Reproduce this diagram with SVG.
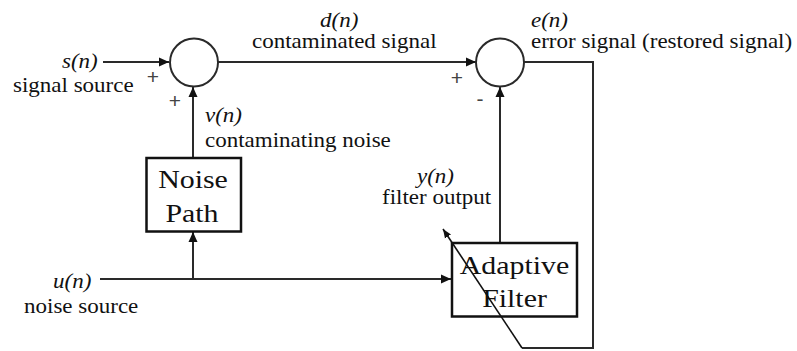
<svg xmlns="http://www.w3.org/2000/svg" width="797" height="351" viewBox="0 0 797 351">
<defs>
<style>
.ln{fill:none;stroke:#2a2a2a;stroke-width:2}
.box{fill:#fff;stroke:#111;stroke-width:2.5}
.sum{fill:#fff;stroke:#2a2a2a;stroke-width:2}
</style>
<marker id="ah" markerUnits="userSpaceOnUse" markerWidth="10" markerHeight="10" refX="10" refY="5" orient="auto" viewBox="0 0 10 10">
<path d="M0,0.5 L10,5 L0,9.5 z" fill="#111"/>
</marker>
<marker id="ah2" markerUnits="userSpaceOnUse" markerWidth="9" markerHeight="9" refX="10" refY="5" orient="auto" viewBox="0 0 10 10">
<path d="M0,1 L10,5 L0,9 z" fill="#111"/>
</marker>
</defs>
<rect width="797" height="351" fill="#fff"/>

<g id="connectors">
<path class="ln" d="M103,62 H169" marker-end="url(#ah)"/>
<path class="ln" d="M193,158 V87" marker-end="url(#ah)"/>
<path class="ln" d="M218,62 H476" marker-end="url(#ah)"/>
<path class="ln" d="M500,243 V87" marker-end="url(#ah)"/>
<path class="ln" d="M100,279 H451" marker-end="url(#ah)"/>
<path class="ln" d="M193,279 V232" marker-end="url(#ah)"/>
<path class="ln" d="M524,62 H593 V348 H522"/>
</g>

<g font-family="Liberation Sans" font-size="21" fill="#444" text-anchor="middle">
<g id="sum1">
<circle class="sum" cx="194" cy="62.5" r="24"/>
<text x="153" y="84">+</text>
<text x="175" y="108">+</text>
</g>
<g id="sum2">
<circle class="sum" cx="500" cy="62.5" r="24"/>
<text x="457" y="85">+</text>
<text x="480" y="106">-</text>
</g>
</g>

<g font-family="Liberation Serif" font-size="26" fill="#111" text-anchor="middle">
<g id="noise-path">
<rect class="box" x="146.5" y="158" width="94.5" height="73.5"/>
<text transform="translate(193,188) scale(1.15,1)">Noise</text>
<text transform="translate(192,222) scale(1.15,1)">Path</text>
</g>
<g id="adaptive-filter">
<rect class="box" x="452" y="243" width="125" height="73.5"/>
<text transform="translate(514.5,274) scale(1.15,1)">Adaptive</text>
<text transform="translate(514.5,307) scale(1.15,1)">Filter</text>
</g>
</g>

<g id="adapt-arrow">
<path d="M522,348 L443,229" fill="none" stroke="#111" stroke-width="1.6" marker-end="url(#ah2)"/>
</g>

<g id="labels" font-family="Liberation Serif" font-size="20" fill="#111">
<text font-style="italic" transform="translate(62,68) scale(1.15,1)">s(n)</text>
<text transform="translate(13,92) scale(1.15,1)">signal source</text>
<text font-style="italic" transform="translate(205,122) scale(1.15,1)">v(n)</text>
<text transform="translate(205,147) scale(1.15,1)">contaminating noise</text>
<text font-style="italic" transform="translate(320,27) scale(1.15,1)">d(n)</text>
<text transform="translate(252,48) scale(1.15,1)">contaminated signal</text>
<text font-style="italic" transform="translate(531,27) scale(1.15,1)">e(n)</text>
<text transform="translate(531,48) scale(1.15,1)">error signal (restored signal)</text>
<text font-style="italic" transform="translate(417,183) scale(1.15,1)">y(n)</text>
<text transform="translate(382,204) scale(1.15,1)">filter output</text>
<text font-style="italic" transform="translate(53,288) scale(1.15,1)">u(n)</text>
<text transform="translate(24,313) scale(1.15,1)">noise source</text>
</g>
</svg>
